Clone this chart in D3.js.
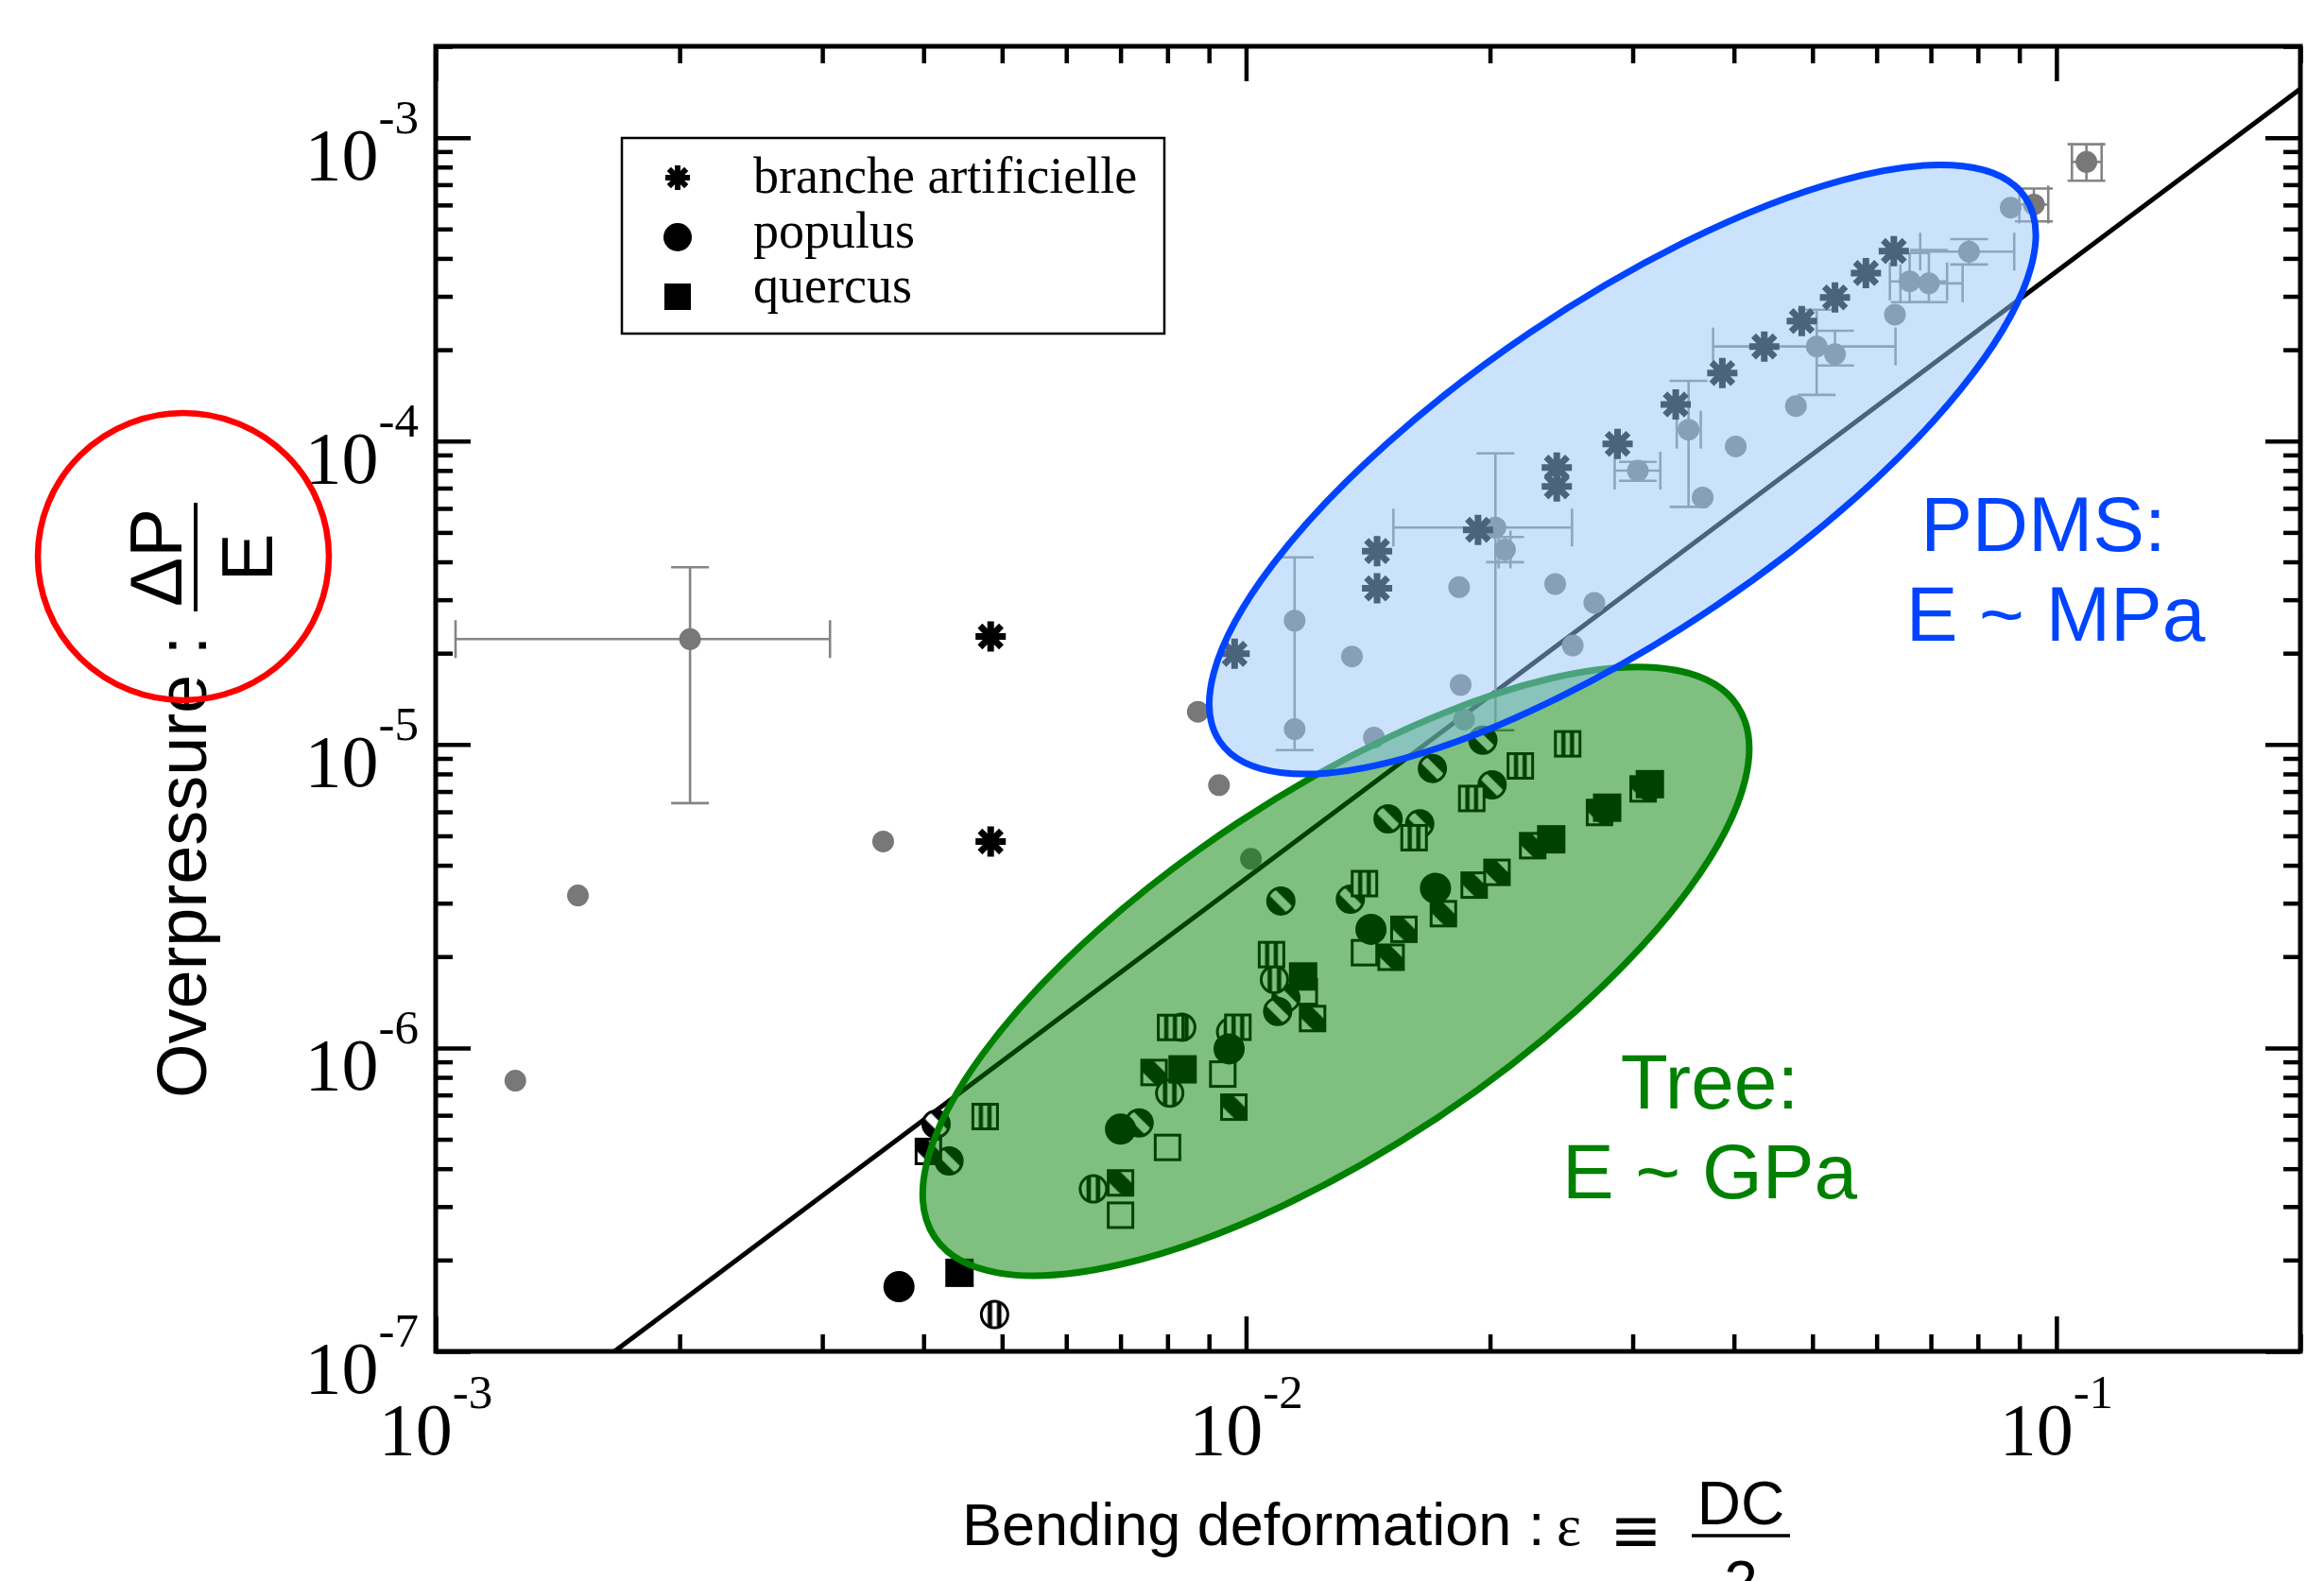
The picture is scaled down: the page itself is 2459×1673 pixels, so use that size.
<!DOCTYPE html>
<html>
<head>
<meta charset="utf-8">
<script src="https://cdn.jsdelivr.net/npm/d3@7"></script>
<style>
  body { margin: 0; background: #fff; }
  svg { display: block; }
</style>
</head>
<body>
<svg id="chart" width="2459" height="1673"></svg>
<script>
// decades shown on the axes
var xDecades = [-3, -2, -1];
var yDecades = [-7, -6, -5, -4, -3];

// power-law guide line (slope 2), read at the frame edges
var fitLine = [[1.662e-3, 1e-7], [0.2, 1.448e-3]];

// branche artificielle (asterisks)
var branche = [
  [4.84e-3, 2.27e-5], [4.84e-3, 4.79e-6], [9.68e-3, 1.99e-5],
  [1.451e-2, 4.34e-5], [1.451e-2, 3.27e-5], [1.933e-2, 5.1e-5],
  [2.418e-2, 8.18e-5], [2.418e-2, 7.09e-5], [2.874e-2, 9.79e-5],
  [3.39e-2, 1.32e-4], [3.87e-2, 1.676e-4], [4.36e-2, 2.05e-4],
  [4.85e-2, 2.486e-4], [5.33e-2, 2.975e-4], [5.82e-2, 3.58e-4],
  [6.3e-2, 4.23e-4]
];

// PDMS samples (grey dots), with error ranges where drawn
var pdmsX = [2.06e-3, 1.498e-3, 1.254e-3, 3.566e-3, 8.72e-3, 9.26e-3, 1.014e-2,
  1.148e-2, 1.148e-2, 1.351e-2, 1.438e-2, 2.031e-2, 2.087e-2, 1.832e-2, 1.84e-2,
  1.858e-2, 2.407e-2, 2.69e-2, 2.53e-2, 3.044e-2, 3.516e-2, 3.66e-2, 4.02e-2,
  5.06e-2, 5.33e-2, 4.77e-2, 6.32e-2, 6.59e-2, 6.96e-2, 7.8e-2, 8.78e-2,
  9.38e-2, 0.1089];
var pdmsY = [2.225e-5, 3.18e-6, 7.8e-7, 4.79e-6, 1.282e-5, 7.35e-6, 4.2e-6,
  2.56e-5, 1.124e-5, 1.95e-5, 1.054e-5, 5.19e-5, 4.39e-5, 3.3e-5, 1.572e-5,
  1.208e-5, 3.38e-5, 2.93e-5, 2.12e-5, 7.99e-5, 1.09e-4, 6.52e-5, 9.6e-5,
  2.05e-4, 1.934e-4, 1.304e-4, 2.61e-4, 3.36e-4, 3.31e-4, 4.21e-4, 5.88e-4,
  6.02e-4, 8.32e-4];
// [index, xLow, xHigh, yLow, yHigh]
var pdmsErr = [
  [0, 1.058e-3, 3.066e-3, 6.41e-6, 3.84e-5],
  [7, null, null, 9.58e-6, 4.14e-5],
  [11, 1.52e-2, 2.525e-2, 1.114e-5, 9.11e-5],
  [12, 2.05e-2, 2.12e-2, 3.99e-5, 4.83e-5],
  [19, 2.85e-2, 3.245e-2, 7.4e-5, 8.54e-5],
  [20, 3.4e-2, 3.64e-2, 6.07e-5, 1.58e-4],
  [23, 3.77e-2, 6.33e-2, 1.42e-4, 2.71e-4],
  [24, null, null, 1.775e-4, 2.31e-4],
  [27, 6.23e-2, 7.33e-2, 2.87e-4, 4.17e-4],
  [28, 6.42e-2, 7.66e-2, 2.87e-4, 4.26e-4],
  [29, 6.79e-2, 8.87e-2, 3.82e-4, 4.63e-4],
  [31, 9.0e-2, 9.77e-2, 5.3e-4, 6.8e-4],
  [32, 0.1045, 0.1137, 7.21e-4, 9.51e-4]
];

// populus (circles)
var populusFilled = [[3.73e-3, 1.633e-7], [7.0e-3, 5.4e-7], [9.53e-3, 9.93e-7],
  [1.426e-2, 2.46e-6], [1.713e-2, 3.36e-6]];
var populusV = [[4.894e-3, 1.322e-7], [6.48e-3, 3.43e-7], [8.05e-3, 7.1e-7],
  [8.33e-3, 1.17e-6], [9.57e-3, 1.13e-6], [1.084e-2, 1.68e-6]];
var populusD = [[4.145e-3, 5.61e-7], [4.3e-3, 4.24e-7], [7.38e-3, 5.66e-7],
  [1.12e-2, 1.46e-6], [1.094e-2, 1.32e-6], [1.104e-2, 3.05e-6],
  [1.345e-2, 3.09e-6], [1.497e-2, 5.69e-6], [1.638e-2, 5.48e-6],
  [1.698e-2, 8.34e-6], [1.96e-2, 1.034e-5], [2.012e-2, 7.36e-6]];

// quercus (squares)
var quercusFilled = [[4.43e-3, 1.815e-7], [8.35e-3, 8.5e-7], [1.176e-2, 1.72e-6],
  [2.38e-2, 4.87e-6], [2.79e-2, 6.19e-6], [3.15e-2, 7.4e-6]];
var quercusV = [[4.765e-3, 5.94e-7], [8.07e-3, 1.168e-6], [9.77e-3, 1.17e-6],
  [1.075e-2, 2.03e-6], [1.4e-2, 3.48e-6], [1.612e-2, 4.93e-6],
  [1.899e-2, 6.64e-6], [2.18e-2, 8.5e-6], [2.494e-2, 1.005e-5]];
var quercusD = [[4.055e-3, 4.56e-7], [7.0e-3, 3.59e-7], [7.7e-3, 8.3e-7],
  [9.66e-3, 6.38e-7], [1.208e-2, 1.25e-6], [1.566e-2, 2.46e-6],
  [1.51e-2, 1.99e-6], [1.752e-2, 2.77e-6], [1.912e-2, 3.44e-6],
  [2.04e-2, 3.79e-6], [2.258e-2, 4.64e-6], [2.73e-2, 5.97e-6],
  [3.09e-2, 7.14e-6]];
var quercusOpen = [[7.0e-3, 2.81e-7], [8.0e-3, 4.7e-7], [9.36e-3, 8.2e-7],
  [1.18e-2, 1.53e-6], [1.4e-2, 2.06e-6]];

var legendLabels = ["branche artificielle", "populus", "quercus"];

// highlighted regions: major-axis tips in data units, minor/major ratio
var pdmsZone = { tips: [[9.28e-3, 1.023e-5], [9.153e-2, 6.352e-4]], ratio: 0.34 };
var treeZone = { tips: [[4.127e-3, 2.382e-7], [4.039e-2, 1.342e-5]], ratio: 0.37 };

var svg = d3.select("#chart");
var pLeft = 461, pRight = 2434, pTop = 49, pBottom = 1430;

var x = d3.scaleLog().domain([1e-3, 0.2]).range([pLeft, pRight]);
var y = d3.scaleLog().domain([1e-7, 2e-3]).range([pBottom, pTop]);

var defs = svg.append("defs");
defs.append("clipPath").attr("id", "plotclip")
  .append("rect").attr("x", pLeft).attr("y", pTop)
  .attr("width", pRight - pLeft).attr("height", pBottom - pTop);

var pv = defs.append("pattern").attr("id", "vstripe")
  .attr("patternContentUnits", "objectBoundingBox").attr("width", 1).attr("height", 1);
pv.append("rect").attr("width", 1).attr("height", 1).attr("fill", "#fff");
pv.append("rect").attr("x", 0.24).attr("width", 0.17).attr("height", 1).attr("fill", "#000");
pv.append("rect").attr("x", 0.59).attr("width", 0.17).attr("height", 1).attr("fill", "#000");

var pdc = defs.append("pattern").attr("id", "dcircle")
  .attr("patternContentUnits", "objectBoundingBox").attr("width", 1).attr("height", 1);
pdc.append("rect").attr("width", 1).attr("height", 1).attr("fill", "#000");
pdc.append("polygon").attr("points", "0.22,0 1,0.78 0.78,1 0,0.22").attr("fill", "#fff");

var pds = defs.append("pattern").attr("id", "dsquare")
  .attr("patternContentUnits", "objectBoundingBox").attr("width", 1).attr("height", 1);
pds.append("rect").attr("width", 1).attr("height", 1).attr("fill", "#fff");
pds.append("polygon").attr("points", "0.12,0 0.45,0 1,0.55 1,0.88 0.88,1 0.55,1 0,0.45 0,0.12").attr("fill", "#000");

var plot = svg.append("g").attr("clip-path", "url(#plotclip)");

// guide line
plot.append("path")
  .datum(fitLine)
  .attr("fill", "none")
  .attr("stroke", "#000")
  .attr("stroke-width", 5)
  .attr("d", d3.line().x(function(d) { return x(d[0]); }).y(function(d) { return y(d[1]); }));

// error bars
var grey = "#787878";
var eb = plot.append("g").attr("stroke", "#848484").attr("stroke-width", 2.6).attr("fill", "none");
var cap = 20;
pdmsErr.forEach(function(e) {
  var px = x(pdmsX[e[0]]), py = y(pdmsY[e[0]]);
  if (e[1] !== null) {
    eb.append("line").attr("x1", x(e[1])).attr("x2", x(e[2])).attr("y1", py).attr("y2", py);
    eb.append("line").attr("x1", x(e[1])).attr("x2", x(e[1])).attr("y1", py - cap).attr("y2", py + cap);
    eb.append("line").attr("x1", x(e[2])).attr("x2", x(e[2])).attr("y1", py - cap).attr("y2", py + cap);
  }
  eb.append("line").attr("x1", px).attr("x2", px).attr("y1", y(e[3])).attr("y2", y(e[4]));
  eb.append("line").attr("x1", px - cap).attr("x2", px + cap).attr("y1", y(e[3])).attr("y2", y(e[3]));
  eb.append("line").attr("x1", px - cap).attr("x2", px + cap).attr("y1", y(e[4])).attr("y2", y(e[4]));
});

plot.append("g").selectAll("circle")
  .data(d3.range(pdmsX.length))
  .join("circle")
  .attr("cx", function(i) { return x(pdmsX[i]); })
  .attr("cy", function(i) { return y(pdmsY[i]); })
  .attr("r", 11.5)
  .attr("fill", grey);

function asteriskPath(h) {
  var k = h * 0.7071;
  return "M0," + (-h) + "V" + h + "M" + (-h) + ",0H" + h +
    "M" + (-k) + "," + (-k) + "L" + k + "," + k +
    "M" + (-k) + "," + k + "L" + k + "," + (-k);
}

plot.append("g").selectAll("path")
  .data(branche)
  .join("path")
  .attr("transform", function(d) { return "translate(" + x(d[0]) + "," + y(d[1]) + ")"; })
  .attr("d", asteriskPath(16))
  .attr("stroke", "#000")
  .attr("stroke-width", 7)
  .attr("fill", "none");

function drawCircles(data, fill, r) {
  plot.append("g").selectAll("circle")
    .data(data)
    .join("circle")
    .attr("cx", function(d) { return x(d[0]); })
    .attr("cy", function(d) { return y(d[1]); })
    .attr("r", r)
    .attr("fill", fill)
    .attr("stroke", "#000")
    .attr("stroke-width", 3);
}
function drawSquares(data, fill, s) {
  plot.append("g").selectAll("rect")
    .data(data)
    .join("rect")
    .attr("x", function(d) { return x(d[0]) - s / 2; })
    .attr("y", function(d) { return y(d[1]) - s / 2; })
    .attr("width", s)
    .attr("height", s)
    .attr("fill", fill)
    .attr("stroke", "#000")
    .attr("stroke-width", 3);
}

drawSquares(quercusOpen, "#fff", 26);
drawCircles(populusD, "url(#dcircle)", 14);
drawSquares(quercusD, "url(#dsquare)", 26);
drawCircles(populusV, "url(#vstripe)", 14);
drawSquares(quercusV, "url(#vstripe)", 26);
drawCircles(populusFilled, "#000", 15);
drawSquares(quercusFilled, "#000", 27);

// shaded zones
function zone(z, fill, fillOpacity, stroke) {
  var p1 = [x(z.tips[0][0]), y(z.tips[0][1])];
  var p2 = [x(z.tips[1][0]), y(z.tips[1][1])];
  var cx = (p1[0] + p2[0]) / 2, cy = (p1[1] + p2[1]) / 2;
  var a = Math.hypot(p2[0] - p1[0], p2[1] - p1[1]) / 2;
  var ang = Math.atan2(p2[1] - p1[1], p2[0] - p1[0]) * 180 / Math.PI;
  svg.append("ellipse")
    .attr("cx", cx).attr("cy", cy)
    .attr("rx", a).attr("ry", a * z.ratio)
    .attr("transform", "rotate(" + ang + "," + cx + "," + cy + ")")
    .attr("fill", fill)
    .attr("fill-opacity", fillOpacity)
    .attr("stroke", stroke)
    .attr("stroke-width", 7);
}
zone(treeZone, "rgb(0,128,0)", 0.5, "rgb(0,128,0)");
zone(pdmsZone, "rgb(150,198,250)", 0.5, "rgb(0,68,255)");

// legend
var lg = svg.append("g");
lg.append("rect").attr("x", 658).attr("y", 146).attr("width", 574).attr("height", 207)
  .attr("fill", "#fff").attr("stroke", "#000").attr("stroke-width", 2.5);
lg.append("path").attr("transform", "translate(717,188)").attr("d", asteriskPath(13))
  .attr("stroke", "#000").attr("stroke-width", 6).attr("fill", "none");
lg.append("circle").attr("cx", 717).attr("cy", 251).attr("r", 15).attr("fill", "#000");
lg.append("rect").attr("x", 703).attr("y", 300).attr("width", 28).attr("height", 28).attr("fill", "#000");
lg.selectAll("text.lab")
  .data(legendLabels)
  .join("text")
  .attr("class", "lab")
  .attr("x", 797)
  .attr("y", function(d, i) { return 204 + i * 58; })
  .attr("font-family", "Liberation Serif, Times New Roman, serif")
  .attr("font-size", 54)
  .text(function(d) { return d; });

// annotations
function note(txt, cx, by, col) {
  svg.append("text").attr("x", cx).attr("y", by)
    .attr("text-anchor", "middle")
    .attr("font-family", "Liberation Sans, Arial, sans-serif")
    .attr("font-size", 82)
    .attr("fill", col)
    .text(txt);
}
note("PDMS:", 2162, 583, "rgb(0,68,255)");
note("E ~ MPa", 2175, 678, "rgb(0,68,255)");
note("Tree:", 1809, 1173, "rgb(0,128,0)");
note("E ~ GPa", 1809, 1268, "rgb(0,128,0)");

// axes: minor and major ticks on all four sides
var minorX = [], minorY = [];
xDecades.forEach(function(d) {
  for (var k = 2; k <= 9; k++) { var v = k * Math.pow(10, d); if (v <= 0.2) minorX.push(v); }
});
yDecades.forEach(function(d) {
  for (var k = 2; k <= 9; k++) { var v = k * Math.pow(10, d); if (v <= 2e-3) minorY.push(v); }
});
var majorX = xDecades.map(function(d) { return Math.pow(10, d); });
var majorY = yDecades.map(function(d) { return Math.pow(10, d); });

function ticks(axis, tr) {
  var g = svg.append("g").attr("transform", tr).call(axis);
  g.select(".domain").remove();
  g.selectAll(".tick line").attr("stroke", "#000").attr("stroke-width", 4.5);
}
[[minorX, 18], [majorX, 37]].forEach(function(t) {
  ticks(d3.axisBottom(x).tickValues(t[0]).tickSize(-t[1]).tickFormat(""), "translate(0," + pBottom + ")");
  ticks(d3.axisTop(x).tickValues(t[0]).tickSize(-t[1]).tickFormat(""), "translate(0," + pTop + ")");
});
[[minorY, 18], [majorY, 37]].forEach(function(t) {
  ticks(d3.axisLeft(y).tickValues(t[0]).tickSize(-t[1]).tickFormat(""), "translate(" + pLeft + ",0)");
  ticks(d3.axisRight(y).tickValues(t[0]).tickSize(-t[1]).tickFormat(""), "translate(" + pRight + ",0)");
});

svg.append("rect").attr("x", pLeft).attr("y", pTop)
  .attr("width", pRight - pLeft).attr("height", pBottom - pTop)
  .attr("fill", "none").attr("stroke", "#000").attr("stroke-width", 5);

var serif = "Liberation Serif, Times New Roman, serif";
function powLabel(px, py, exp, anchor) {
  var t = svg.append("text").attr("x", px).attr("y", py)
    .attr("text-anchor", anchor)
    .attr("font-family", serif)
    .attr("font-size", 78);
  t.append("tspan").text("10");
  t.append("tspan").attr("dy", -49).attr("font-size", 51).text(String(exp));
}
xDecades.forEach(function(d) { powLabel(x(Math.pow(10, d)), 1539, d, "middle"); });
yDecades.forEach(function(d) { powLabel(443, y(Math.pow(10, d)) + 44, d, "end"); });

// axis titles
var sans = "Liberation Sans, Arial, sans-serif";
var yl = svg.append("g").attr("transform", "translate(218,1162) rotate(-90)");
yl.append("text").attr("x", 0).attr("y", 0)
  .attr("font-family", sans).attr("font-size", 74).text("Overpressure :");
yl.append("text").attr("x", 572).attr("y", -26).attr("text-anchor", "middle")
  .attr("font-family", sans).attr("font-size", 78).text("\u0394P");
yl.append("line").attr("x1", 515).attr("x2", 630).attr("y1", -11).attr("y2", -11)
  .attr("stroke", "#000").attr("stroke-width", 4);
yl.append("text").attr("x", 572).attr("y", 70).attr("text-anchor", "middle")
  .attr("font-family", sans).attr("font-size", 76).text("E");

svg.append("ellipse").attr("cx", 194).attr("cy", 589).attr("rx", 154).attr("ry", 152)
  .attr("fill", "none").attr("stroke", "#ff0000").attr("stroke-width", 6.5);

svg.append("text").attr("x", 1018).attr("y", 1635)
  .attr("font-family", sans).attr("font-size", 63).text("Bending deformation :");
svg.append("text").attr("x", 1647).attr("y", 1635)
  .attr("font-family", serif).attr("font-size", 62).text("\u03b5");
svg.append("text").attr("x", 1731).attr("y", 1642).attr("text-anchor", "middle")
  .attr("font-family", "DejaVu Sans, sans-serif").attr("font-size", 66).text("\u2261");
svg.append("text").attr("x", 1842).attr("y", 1613).attr("text-anchor", "middle")
  .attr("font-family", sans).attr("font-size", 64).text("DC");
svg.append("line").attr("x1", 1790).attr("x2", 1894).attr("y1", 1625).attr("y2", 1625)
  .attr("stroke", "#000").attr("stroke-width", 3.5);
svg.append("text").attr("x", 1842).attr("y", 1697).attr("text-anchor", "middle")
  .attr("font-family", sans).attr("font-size", 64).text("2");
</script>
</body>
</html>
